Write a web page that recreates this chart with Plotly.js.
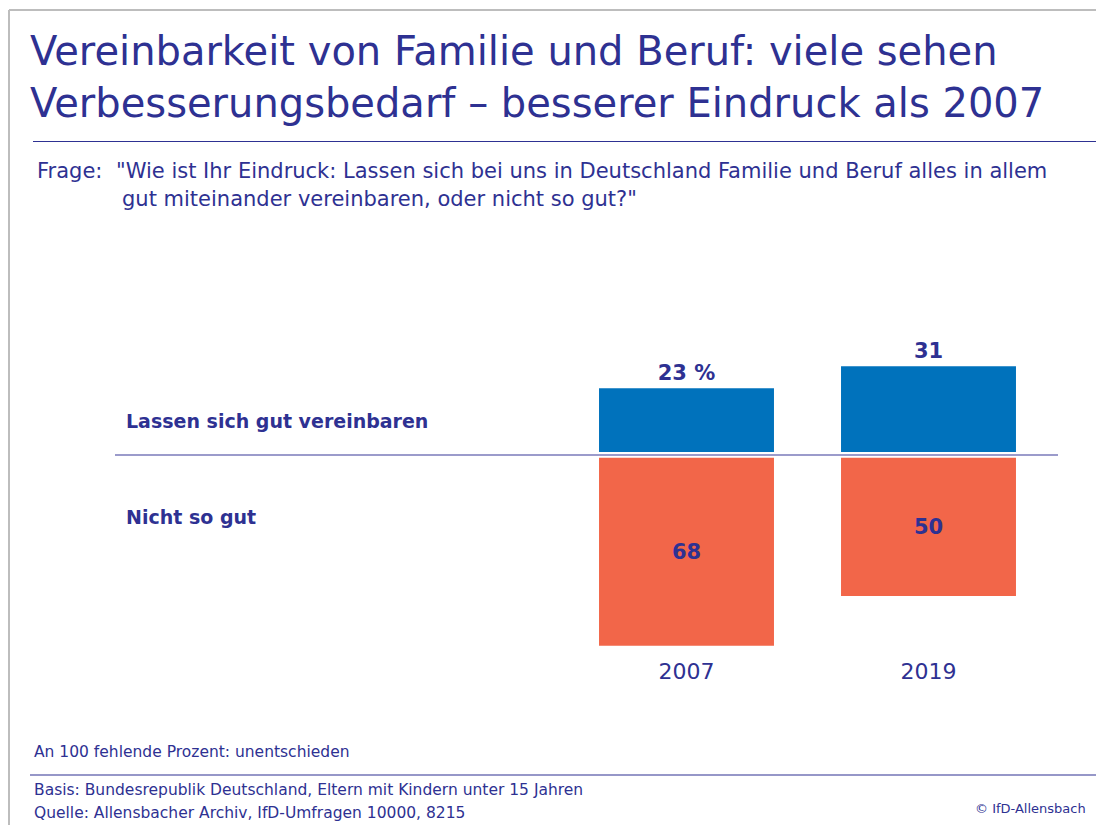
<!DOCTYPE html>
<html>
<head>
<meta charset="utf-8">
<script src="https://cdn.plot.ly/plotly-3.0.1.min.js"></script>
<style>html,body{margin:0;padding:0;background:#fff;}#chart{width:1096px;height:825px;}</style>
</head>
<body>
<div id="chart"></div>
<script>
// ---- data ----
const years = ["2007", "2019"];
const gutVereinbar = [23, 31];
const nichtSoGut = [68, 50];
const seriesNames = ["Lassen sich gut vereinbaren", "Nicht so gut"];
const titleLines = ["Vereinbarkeit von Familie und Beruf: viele sehen", "Verbesserungsbedarf \u2013 besserer Eindruck als 2007"];
const questionLabel = "Frage:";
const questionLines = ["\"Wie ist Ihr Eindruck: Lassen sich bei uns in Deutschland Familie und Beruf alles in allem", "gut miteinander vereinbaren, oder nicht so gut?\""];
const footnote = "An 100 fehlende Prozent: unentschieden";
const basis = "Basis: Bundesrepublik Deutschland, Eltern mit Kindern unter 15 Jahren";
const quelle = "Quelle: Allensbacher Archiv, IfD-Umfragen 10000, 8215";
const copyright = "\u00a9 IfD-Allensbach";

// ---- layout helpers ----
const W = 1096, H = 825;
const X = p => p / W;
const Y = p => 1 - p / H;
const FONT = "DejaVu Sans, sans-serif";
const TXT = "#2e3192";
const BLUE = "#0072bc";
const ORANGE = "#f26649";
const PXU = 2.77;           // pixels per percent
const topBase = 452, botBase = 457.5;
const topMax = 40, botMax = 70;

const blueText = gutVereinbar.map((v, i) => i === 0 ? v + " %" : String(v));
const orangeText = nichtSoGut.map(v => String(v));

const traces = [
  {
    type: "bar", name: seriesNames[0], x: years, y: gutVereinbar,
    xaxis: "x", yaxis: "y", width: 0.723,
    marker: {color: BLUE, line: {width: 0}},
    text: blueText, textposition: "outside", textangle: 0,
    textfont: {family: FONT, size: 21, color: TXT, weight: "bold"},
    cliponaxis: false, hoverinfo: "skip"
  },
  {
    type: "bar", name: seriesNames[1], x: years, y: nichtSoGut,
    xaxis: "x2", yaxis: "y2", width: 0.723,
    marker: {color: ORANGE, line: {width: 0}},
    text: orangeText, textposition: "inside", insidetextanchor: "middle", textangle: 0,
    constraintext: "none",
    insidetextfont: {family: FONT, size: 21, color: TXT, weight: "bold"},
    cliponaxis: false, hoverinfo: "skip"
  }
];

const xdom = [X(565.5), X(1049.5)];
const layout = {
  width: W, height: H,
  margin: {l: 0, r: 0, t: 0, b: 0},
  paper_bgcolor: "#ffffff", plot_bgcolor: "rgba(0,0,0,0)",
  showlegend: false,
  font: {family: FONT, color: TXT},
  title: {
    text: titleLines.join("<br>"),
    x: X(30), xanchor: "left", xref: "paper",
    y: Y(65), yanchor: "top", yref: "paper",
    font: {family: FONT, size: 40, color: TXT}
  },
  xaxis: {domain: xdom, type: "category", range: [-0.5, 1.5], anchor: "y",
          showticklabels: false, ticks: "", showgrid: false, zeroline: false, showline: false, fixedrange: true},
  xaxis2: {domain: xdom, type: "category", range: [-0.5, 1.5], anchor: "y2", matches: "x",
           showticklabels: true, ticks: "", showgrid: false, zeroline: false, showline: false,
           tickfont: {family: FONT, size: 22, color: TXT}, ticklabelstandoff: 5},
  yaxis: {domain: [Y(topBase), Y(topBase - topMax * PXU)], range: [0, topMax], visible: false, fixedrange: true},
  yaxis2: {domain: [Y(botBase + botMax * PXU), Y(botBase)], range: [botMax, 0], visible: false, fixedrange: true},
  shapes: [
    {type: "line", xref: "paper", yref: "paper", x0: X(9), x1: X(1096), y0: Y(10), y1: Y(10), line: {color: "#bdbdbd", width: 2}},
    {type: "line", xref: "paper", yref: "paper", x0: X(9), x1: X(9), y0: Y(10), y1: Y(825), line: {color: "#bdbdbd", width: 2}},
    {type: "line", xref: "paper", yref: "paper", x0: X(33), x1: X(1096), y0: Y(141.5), y1: Y(141.5), line: {color: TXT, width: 1.2}},
    {type: "line", xref: "paper", yref: "paper", x0: X(115), x1: X(1058), y0: Y(455), y1: Y(455), line: {color: "#9b9bcb", width: 2}},
    {type: "line", xref: "paper", yref: "paper", x0: X(30), x1: X(1096), y0: Y(775), y1: Y(775), line: {color: TXT, width: 1.2}}
  ],
  annotations: [
    {text: questionLabel, x: X(35), y: Y(171), xref: "paper", yref: "paper", xanchor: "left", yanchor: "middle", showarrow: false, font: {family: FONT, size: 21, color: TXT}},
    {text: questionLines[0], x: X(114), y: Y(171), xref: "paper", yref: "paper", xanchor: "left", yanchor: "middle", showarrow: false, font: {family: FONT, size: 21, color: TXT}},
    {text: questionLines[1], x: X(120), y: Y(199), xref: "paper", yref: "paper", xanchor: "left", yanchor: "middle", showarrow: false, font: {family: FONT, size: 21, color: TXT}},
    {text: "<b>" + seriesNames[0] + "</b>", x: X(124), y: Y(421), xref: "paper", yref: "paper", xanchor: "left", yanchor: "middle", showarrow: false, font: {family: FONT, size: 19, color: TXT}},
    {text: "<b>" + seriesNames[1] + "</b>", x: X(124), y: Y(517), xref: "paper", yref: "paper", xanchor: "left", yanchor: "middle", showarrow: false, font: {family: FONT, size: 19, color: TXT}},
    {text: footnote, x: X(32), y: Y(752), xref: "paper", yref: "paper", xanchor: "left", yanchor: "middle", showarrow: false, font: {family: FONT, size: 15.5, color: TXT}},
    {text: basis, x: X(32), y: Y(790), xref: "paper", yref: "paper", xanchor: "left", yanchor: "middle", showarrow: false, font: {family: FONT, size: 15.5, color: TXT}},
    {text: quelle, x: X(32), y: Y(813), xref: "paper", yref: "paper", xanchor: "left", yanchor: "middle", showarrow: false, font: {family: FONT, size: 15.5, color: TXT}},
    {text: copyright, x: X(1088), y: Y(808), xref: "paper", yref: "paper", xanchor: "right", yanchor: "middle", showarrow: false, font: {family: FONT, size: 13, color: TXT}}
  ]
};

Plotly.newPlot("chart", traces, layout, {displayModeBar: false, staticPlot: true});
</script>
</body>
</html>
